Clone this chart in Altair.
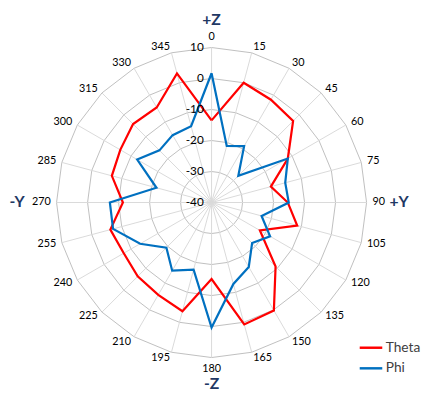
import altair as alt
import pandas as pd

# ---------------- data ----------------
angles = list(range(0, 360, 15))
theta_db = [-13.5, 0.0, -1.7, -2.8, -11.6, -20.2, -15.4, -11.4, -22.0, -10.8, 0.2, 0.7,
            -15.3, -3.7, -5.6, -6.3, -7.3, -6.2, -11.4, -6.7, -6.0, -4.2, -4.6, 3.1]
phi_db = [1.7, -21.1, -19.0, -27.8, -11.6, -15.4, -15.1, -23.3, -18.2, -21.5, -16.0, -12.8,
          0.3, -17.6, -14.6, -19.4, -13.4, -7.1, -7.2, -21.6, -12.3, -16.2, -14.9, -14.5]
series_names = ["Theta", "Phi"]
series_colors = ["#FF0000", "#0070C0"]
ring_values = [-40, -30, -20, -10, 0, 10]
axis_titles = ["+Z", "+Y", "-Z", "-Y"]
axis_title_angles = [0, 90, 180, 270]
r_min, r_max = -40, 10

FONT = "Lato"

# ---------------- tables ----------------
n = len(angles)
rows = []
for name, vals in zip(series_names, [theta_db, phi_db]):
    for i in range(n + 1):
        rows.append({"series": name, "angle": angles[i % n], "value": vals[i % n], "idx": i})
series_df = pd.DataFrame(rows)

ring_rows = []
for v in ring_values[1:]:
    for i in range(n + 1):
        ring_rows.append({"ring": v, "angle": angles[i % n], "value": v, "idx": i})
ring_df = pd.DataFrame(ring_rows)

spoke_df = pd.DataFrame({"angle": angles, "value": [r_max] * n})
label_df = pd.DataFrame({"angle": angles, "label": [str(a) for a in angles]})
radial_df = pd.DataFrame({"value": ring_values, "label": [str(v) for v in ring_values]})
title_df = pd.DataFrame({"angle": axis_title_angles, "label": axis_titles})

span = r_max - r_min
X = alt.Scale(domain=[-span, span], range=[49.5, 365.5])
Y = alt.Scale(domain=[-span, span], range=[352.5, 36.5])

def polar(chart, rexpr):
    return chart.transform_calculate(
        r=rexpr
    ).transform_calculate(
        px="datum.r * sin(datum.angle * PI / 180)",
        py="datum.r * cos(datum.angle * PI / 180)",
    )

rexpr_val = f"datum.value - ({r_min})"

rings = polar(alt.Chart(ring_df), rexpr_val).mark_line(
    color="#BFBFBF", strokeWidth=1
).encode(
    x=alt.X("px:Q", scale=X, axis=None),
    y=alt.Y("py:Q", scale=Y, axis=None),
    detail="ring:N",
    order="idx:Q",
)

spokes = polar(alt.Chart(spoke_df), rexpr_val).transform_calculate(
    zero="0"
).mark_rule(color="#D9D9D9", strokeWidth=1).encode(
    x=alt.X("zero:Q", scale=X, axis=None),
    y=alt.Y("zero:Q", scale=Y, axis=None),
    x2="px:Q",
    y2="py:Q",
)

color = alt.Color(
    "series:N",
    scale=alt.Scale(domain=series_names, range=series_colors),
    legend=alt.Legend(
        title=None, orient="none", legendX=357, legendY=329.5,
        symbolType="stroke", symbolSize=529, symbolStrokeWidth=2.5,
        labelFont=FONT, labelFontSize=14, labelColor="#404040",
        labelOffset=2, rowPadding=1, padding=0,
    ),
)

def series_layer(name):
    return polar(alt.Chart(series_df).transform_filter(f"datum.series == '{name}'"), rexpr_val).mark_line(
        strokeWidth=2.25, strokeJoin="miter"
    ).encode(
        x=alt.X("px:Q", scale=X, axis=None),
        y=alt.Y("py:Q", scale=Y, axis=None),
        color=color,
        order="idx:Q",
    )

lab_r = f"{span} + 1.9"
lab_common = dict(font=FONT, fontSize=11, color="#000000")

def angle_labels(cond, **mk):
    return polar(alt.Chart(label_df).transform_filter(cond), lab_r).mark_text(**lab_common, **mk).encode(
        x=alt.X("px:Q", scale=X, axis=None),
        y=alt.Y("py:Q", scale=Y, axis=None),
        text="label:N",
    )

lab_right = angle_labels("datum.angle > 0 && datum.angle < 180", align="left", baseline="middle")
lab_left = angle_labels("datum.angle > 180", align="right", baseline="middle")
lab_top = angle_labels("datum.angle == 0", align="center", baseline="bottom")
lab_bottom = angle_labels("datum.angle == 180", align="center", baseline="top")

radial = alt.Chart(radial_df).transform_calculate(
    r=rexpr_val, zero="0"
).mark_text(align="right", baseline="middle", dx=-8, font=FONT, fontSize=12, color="#000000").encode(
    x=alt.X("zero:Q", scale=X, axis=None),
    y=alt.Y("r:Q", scale=Y, axis=None),
    text="label:N",
)

title_common = dict(font=FONT, fontSize=16, fontWeight="bold", color="#1F3864", baseline="middle")

def titles(cond, rr, **mk):
    return polar(alt.Chart(title_df).transform_filter(cond), rr).mark_text(**title_common, **mk).encode(
        x=alt.X("px:Q", scale=X, axis=None),
        y=alt.Y("py:Q", scale=Y, axis=None),
        text="label:N",
    )

t_tb = titles("datum.angle == 0 || datum.angle == 180", f"{span} + 8.7", align="center")
t_r = titles("datum.angle == 90", f"{span} + 7.4", align="left")
t_l = titles("datum.angle == 270", f"{span} + 10.3", align="right")

chart = alt.layer(
    rings, spokes, series_layer("Theta"), series_layer("Phi"),
    lab_right, lab_left, lab_top, lab_bottom, radial, t_tb, t_r, t_l,
).properties(
    width=422, height=392, padding=0,
    autosize=alt.AutoSizeParams(type="none"),
).configure_view(stroke=None)

chart.save("out.html", embed_options={"renderer": "svg", "actions": False})
